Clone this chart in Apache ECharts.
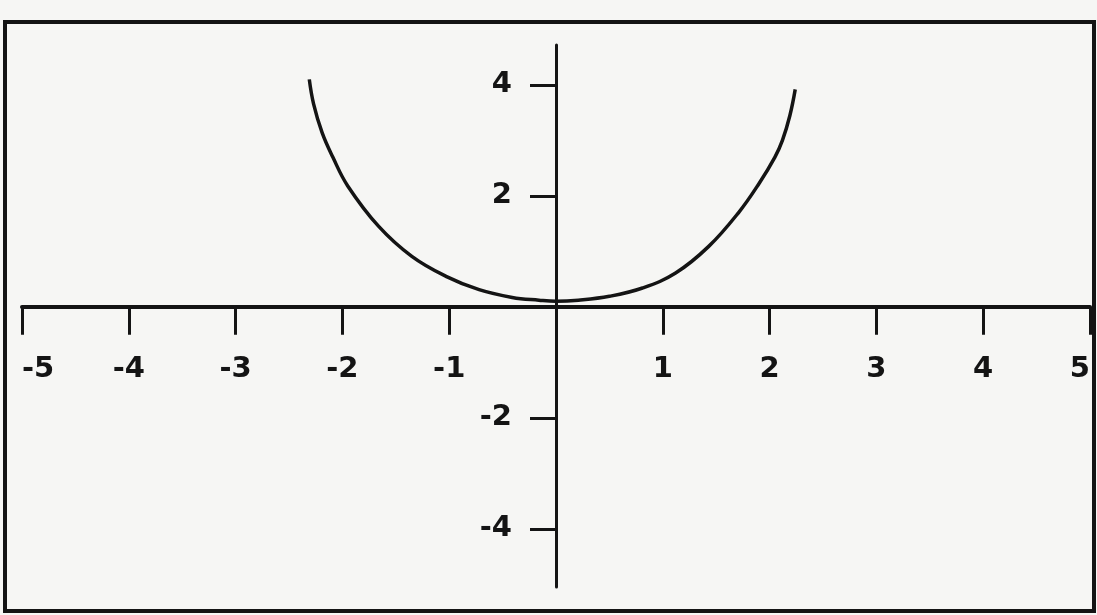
<!DOCTYPE html>
<html>
<head>
<meta charset="utf-8">
<script src="https://cdn.jsdelivr.net/npm/echarts@6/dist/echarts.min.js"></script>
<style>
  html, body { margin: 0; padding: 0; background: #f6f6f4; }
  #chart { width: 1097px; height: 615px; }
</style>
</head>
<body>
<div id="chart"></div>
<script>
// curve (x, y)
const curveX = [-2.31, -2.27, -2.19, -2.09, -1.95, -1.66, -1.35, -1.03, -0.72, -0.41, -0.16, 0, 0.21, 0.50, 0.81, 1.12, 1.43, 1.71, 1.90, 2.05, 2.12, 2.19, 2.24];
const curveY = [4.10, 3.66, 3.14, 2.70, 2.18, 1.45, 0.91, 0.55, 0.31, 0.17, 0.12, 0.10, 0.12, 0.19, 0.34, 0.61, 1.09, 1.70, 2.22, 2.70, 3.00, 3.45, 3.92];
const xTicks = [-5, -4, -3, -2, -1, 1, 2, 3, 4, 5];
const yTicks = [-4, -2, 2, 4];

const ink = '#141414';
const labelFont = {
  color: ink,
  fontFamily: 'DejaVu Sans',
  fontWeight: 'bold',
  fontSize: 29
};

let chart = echarts.init(document.getElementById('chart'));
chart.setOption({
  backgroundColor: '#f6f6f4',
  animation: false,
  grid: { left: 22, right: 7, top: 45, bottom: 28, containLabel: false, outerBoundsMode: 'none' },
  graphic: [{
    type: 'rect',
    shape: { x: 5, y: 22, width: 1089, height: 589 },
    style: { fill: 'none', stroke: ink, lineWidth: 4 }
  }],
  xAxis: {
    type: 'value',
    position: 'bottom',
    min: -5,
    max: 5,
    splitLine: { show: false },
    axisLine: { onZero: false, lineStyle: { color: ink, width: 4 } },
    axisTick: { customValues: xTicks, length: 28, lineStyle: { color: ink, width: 3 } },
    axisLabel: Object.assign({
      customValues: xTicks,
      margin: 48,
      alignMinLabel: 'left',
      alignMaxLabel: 'right'
    }, labelFont)
  },
  yAxis: {
    type: 'value',
    position: 'left',
    min: -5.05,
    max: 4.72,
    splitLine: { show: false },
    axisLine: { onZero: false, lineStyle: { color: ink, width: 3 } },
    axisTick: { customValues: yTicks, length: 26, lineStyle: { color: ink, width: 3 } },
    axisLabel: Object.assign({
      customValues: yTicks,
      margin: 44,
      padding: [4, 0, 0, 0]
    }, labelFont)
  },
  series: [{
    type: 'line',
    smooth: 0.4,
    showSymbol: false,
    lineStyle: { color: ink, width: 3.5 },
    data: curveX.map((x, i) => [x, curveY[i]])
  }]
});

// move both axes onto the origin (labels follow the axis this way)
const origin = chart.convertToPixel({ gridIndex: 0 }, [0, 0]);
const rect = chart.getModel().getComponent('grid', 0).coordinateSystem.getRect();
chart.setOption({
  xAxis: { offset: -(rect.y + rect.height - origin[1]) },
  yAxis: { offset: -(origin[0] - rect.x) }
});
</script>
</body>
</html>
